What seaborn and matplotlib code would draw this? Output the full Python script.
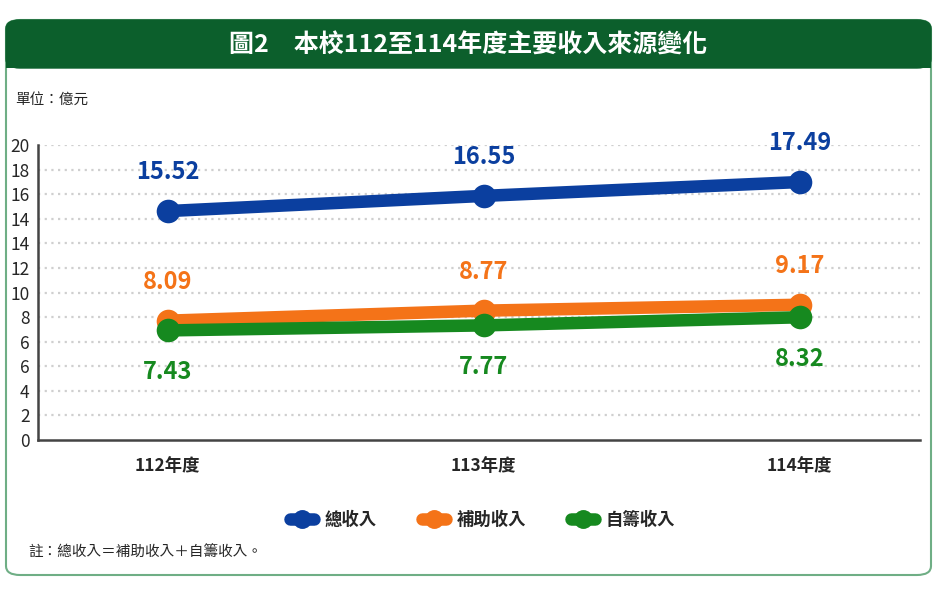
import numpy as np
import pandas as pd
import seaborn as sns
import matplotlib.pyplot as plt
from matplotlib.patches import FancyBboxPatch, Rectangle

# ---------------------------------------------------------
# 資料
# ---------------------------------------------------------
years = ['112年度', '113年度', '114年度']
series_names = ['總收入', '補助收入', '自籌收入']
total_income = [15.52, 16.55, 17.49]
subsidy_income = [8.09, 8.77, 9.17]
self_income = [7.43, 7.77, 8.32]
# 原圖的 y 軸標籤（含重複的 14 與 6）
y_tick_labels = ['0', '2', '4', '6', '6', '8', '10', '12', '14', '14', '16', '18', '20']

colors = ['#0b3f9f', '#f47318', '#16891f']

df = pd.DataFrame({
    'x': list(range(len(years))) * 3,
    'value': total_income + subsidy_income + self_income,
    'series': np.repeat(series_names, len(years)),
})

# ---------------------------------------------------------
# 圖
# ---------------------------------------------------------
sns.set_theme(style="white")
plt.rcParams['font.family'] = ['Noto Sans CJK TC', 'DejaVu Sans']

fig = plt.figure(figsize=(9.37, 5.97), dpi=100)

# 外框與標題列
outer = FancyBboxPatch((6 / 937, 22 / 597), 925 / 937, 555 / 597,
                       boxstyle="round,pad=0,rounding_size=0.015",
                       transform=fig.transFigure, facecolor='white',
                       edgecolor='#6fae85', linewidth=1.5, zorder=0)
fig.patches.append(outer)
bar = FancyBboxPatch((6 / 937, 1 - 68 / 597), 925 / 937, 48 / 597,
                     boxstyle="round,pad=0,rounding_size=0.015",
                     transform=fig.transFigure, facecolor='#0c5f2c',
                     edgecolor='#0c5f2c', zorder=1)
fig.patches.append(bar)
fig.patches.append(Rectangle((6 / 937, 1 - 68 / 597), 925 / 937, 20 / 597,
                             transform=fig.transFigure, facecolor='#0c5f2c',
                             edgecolor='none', zorder=1))

fig.text(0.5, 1 - 46 / 597, '圖2　本校112至114年度主要收入來源變化',
         color='white', fontsize=18, fontweight='bold', ha='center', va='center')
fig.text(15 / 937, 1 - 100 / 597, '單位：億元', fontsize=10.5, ha='left', va='center')
fig.text(28 / 937, 1 - 553 / 597, '註：總收入＝補助收入＋自籌收入。',
         fontsize=10.5, ha='left', va='center')

ax = fig.add_axes([38 / 937, 1 - 440 / 597, 882 / 937, 295 / 597])
ax.set_zorder(5)
ax.patch.set_alpha(0)

sns.lineplot(data=df, x='x', y='value', hue='series', hue_order=series_names,
             palette=colors, marker='o', markersize=17, linewidth=9,
             markeredgewidth=0, ax=ax)

ax.set_xlim(-0.41, 2.38)
ax.set_ylim(0, 20)
yt = np.linspace(0, 20, len(y_tick_labels))
ax.set_yticks(yt)
ax.set_yticklabels(y_tick_labels, fontsize=12.5)
ax.set_xticks(range(len(years)))
ax.set_xticklabels(years, fontsize=12.5, fontweight='bold')
ax.tick_params(axis='y', length=0, pad=6)
ax.tick_params(axis='x', length=0, pad=12)
ax.set_xlabel('')
ax.set_ylabel('')

for v in yt[1:]:
    ax.axhline(v, color='#cfcfcf', linestyle=(0, (1, 2)), linewidth=1.6, zorder=0)

sns.despine(ax=ax)
for s in ['left', 'bottom']:
    ax.spines[s].set_color('#444444')
    ax.spines[s].set_linewidth(1.8)

# 數值標籤
for vals, c, off in [(total_income, colors[0], 28),
                     (subsidy_income, colors[1], 28),
                     (self_income, colors[2], -30)]:
    for i, v in enumerate(vals):
        ax.annotate(f'{v:.2f}', (i, v), xytext=(0, off), textcoords='offset points',
                    ha='center', va='center', color=c, fontsize=17, fontweight='bold')

# 圖例
handles, labels = ax.get_legend_handles_labels()
ax.get_legend().remove()
leg = fig.legend(handles, labels, loc='center', bbox_to_anchor=(0.515, 1 - 520 / 597),
                 ncol=3, frameon=False, fontsize=12.5, handlelength=1.4,
                 columnspacing=2.6, handletextpad=0.6, markerscale=0.8)
leg.set_zorder(6)
for t in leg.get_texts():
    t.set_fontweight('bold')

plt.savefig('out.png', dpi=100)
